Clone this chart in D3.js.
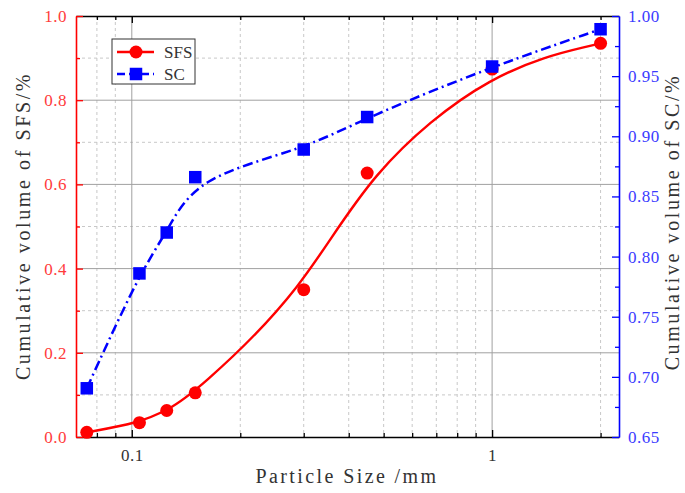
<!DOCTYPE html>
<html>
<head>
<meta charset="utf-8">
<script src="https://cdn.jsdelivr.net/npm/d3@7"></script>
<style>
html, body { margin: 0; padding: 0; background: #fff; overflow: hidden; }
svg { display: block; }
text { font-family: "Liberation Serif", serif; }
</style>
</head>
<body>
<svg width="685" height="493"></svg>
<script>
// particle sizes (mm) and cumulative volumes
const particleSize = [0.075, 0.105, 0.125, 0.15, 0.3, 0.45, 1, 2];
const sfsValues = [0.011, 0.034, 0.063, 0.105, 0.35, 0.627, 0.874, 0.935];
const scValues = [0.6905, 0.786, 0.820, 0.866, 0.889, 0.916, 0.958, 0.989];
const seriesNames = ['SFS', 'SC'];

const xMajorTicks = [0.1, 1];
const xMinorTicks = [0.08, 0.09, 0.2, 0.3, 0.4, 0.5, 0.6, 0.7, 0.8, 0.9, 2];
const sfsTicks = [0, 0.2, 0.4, 0.6, 0.8, 1.0];
const sfsMinorTicks = [0.1, 0.3, 0.5, 0.7, 0.9];
const scTicks = [0.65, 0.70, 0.75, 0.80, 0.85, 0.90, 0.95, 1.00];
const scMinorTicks = [0.675, 0.725, 0.775, 0.825, 0.875, 0.925, 0.975];

const svg = d3.select('svg');
const width = +svg.attr('width');
const height = +svg.attr('height');
const margin = { top: 16, right: 66, bottom: 56, left: 76 };
const innerWidth = width - margin.left - margin.right;
const innerHeight = height - margin.top - margin.bottom;

const red = '#ff0000';
const blue = '#0000ff';

const xScale = d3.scaleLog().domain([0.07, 2.25]).range([0, innerWidth]);
const yLeft = d3.scaleLinear().domain([0, 1]).range([innerHeight, 0]);
const yRight = d3.scaleLinear().domain([0.65, 1.0]).range([innerHeight, 0]);

const g = svg.append('g')
    .attr('transform', `translate(${margin.left},${margin.top})`);

// grid lines
const grid = g.append('g');
grid.selectAll('.vmin').data(xMinorTicks).enter().append('line')
    .attr('x1', d => xScale(d)).attr('x2', d => xScale(d))
    .attr('y1', 0).attr('y2', innerHeight)
    .attr('stroke', '#c8c8c8').attr('stroke-dasharray', '3,3');
grid.selectAll('.hmin').data(sfsMinorTicks).enter().append('line')
    .attr('x1', 0).attr('x2', innerWidth)
    .attr('y1', d => yLeft(d)).attr('y2', d => yLeft(d))
    .attr('stroke', '#c8c8c8').attr('stroke-dasharray', '3,3');
grid.selectAll('.vmaj').data(xMajorTicks).enter().append('line')
    .attr('x1', d => xScale(d)).attr('x2', d => xScale(d))
    .attr('y1', 0).attr('y2', innerHeight)
    .attr('stroke', '#a0a0a0');
grid.selectAll('.hmaj').data(sfsTicks.slice(1, -1)).enter().append('line')
    .attr('x1', 0).attr('x2', innerWidth)
    .attr('y1', d => yLeft(d)).attr('y2', d => yLeft(d))
    .attr('stroke', '#a0a0a0');

// axes
const styleAxis = (sel, color, labelColor) => {
    sel.attr('font-family', null).attr('font-size', null);
    sel.select('.domain').attr('stroke', color).attr('stroke-width', 1.6);
    sel.selectAll('.tick line').attr('stroke', color).attr('stroke-width', 1.3);
    sel.selectAll('.tick text')
        .attr('fill', labelColor)
        .style('font-size', '17px')
        .style('letter-spacing', '0.5px');
};
const minorAxis = (axis, ticks, color) => {
    const a = g.append('g').call(axis.tickValues(ticks).tickSize(-4).tickFormat(''));
    a.select('.domain').remove();
    a.selectAll('text').remove();
    a.selectAll('.tick line').attr('stroke', color).attr('stroke-width', 1.3);
    return a;
};

minorAxis(d3.axisBottom(xScale), xMinorTicks, '#000').attr('transform', `translate(0,${innerHeight})`);
minorAxis(d3.axisTop(xScale), xMinorTicks, '#000');
minorAxis(d3.axisLeft(yLeft), sfsMinorTicks, red);
minorAxis(d3.axisRight(yRight), scMinorTicks, blue).attr('transform', `translate(${innerWidth},0)`);

const xAxisG = g.append('g')
    .attr('transform', `translate(0,${innerHeight})`)
    .call(d3.axisBottom(xScale).tickValues(xMajorTicks).tickSize(-7).tickSizeOuter(0)
        .tickPadding(12).tickFormat(d3.format('')));
styleAxis(xAxisG, '#000', '#333');

const topAxisG = g.append('g')
    .call(d3.axisTop(xScale).tickValues(xMajorTicks).tickSize(-7).tickSizeOuter(0).tickFormat(''));
styleAxis(topAxisG, '#000', '#333');
topAxisG.selectAll('text').remove();

const leftAxisG = g.append('g')
    .call(d3.axisLeft(yLeft).tickValues(sfsTicks).tickSize(-7).tickSizeOuter(0)
        .tickPadding(9).tickFormat(d3.format('.1f')));
styleAxis(leftAxisG, red, '#ff3b3b');

const rightAxisG = g.append('g')
    .attr('transform', `translate(${innerWidth},0)`)
    .call(d3.axisRight(yRight).tickValues(scTicks).tickSize(-7).tickSizeOuter(0)
        .tickPadding(9).tickFormat(d3.format('.2f')));
styleAxis(rightAxisG, blue, '#3b3bff');

// axis titles
svg.append('text')
    .attr('transform', 'translate(30,226) rotate(-90)')
    .attr('text-anchor', 'middle')
    .attr('fill', '#333')
    .style('font-size', '20px')
    .style('letter-spacing', '2.6px')
    .text('Cumulative volume of SFS/%');

svg.append('text')
    .attr('transform', 'translate(679,222) rotate(-90)')
    .attr('text-anchor', 'middle')
    .attr('fill', '#333')
    .style('font-size', '20px')
    .style('letter-spacing', '2.6px')
    .text('Cumulative volume of SC/%');

svg.append('text')
    .attr('x', 347).attr('y', 483)
    .attr('text-anchor', 'middle')
    .attr('fill', '#333')
    .style('font-size', '20px')
    .style('letter-spacing', '2.4px')
    .text('Particle Size /mm');

// series
const sfsData = particleSize.map((p, i) => ({ x: p, y: sfsValues[i] }));
const scData = particleSize.map((p, i) => ({ x: p, y: scValues[i] }));

const sfsLine = d3.line().curve(d3.curveBasis)
    .x(d => xScale(d.x)).y(d => yLeft(d.y));
const scLine = d3.line().curve(d3.curveBasis)
    .x(d => xScale(d.x)).y(d => yRight(d.y));

const scDash = '10,4,2,4';

g.append('path').datum(sfsData)
    .attr('d', sfsLine)
    .attr('fill', 'none').attr('stroke', red).attr('stroke-width', 2.4);
g.selectAll('.sfs').data(sfsData).enter().append('circle')
    .attr('cx', d => xScale(d.x)).attr('cy', d => yLeft(d.y))
    .attr('r', 6.5).attr('fill', red);

g.append('path').datum(scData)
    .attr('d', scLine)
    .attr('fill', 'none').attr('stroke', blue).attr('stroke-width', 2.5)
    .attr('stroke-dasharray', scDash);
g.selectAll('.sc').data(scData).enter().append('rect')
    .attr('x', d => xScale(d.x) - 6.25).attr('y', d => yRight(d.y) - 6.25)
    .attr('width', 12.5).attr('height', 12.5).attr('fill', blue);

// legend
const legend = svg.append('g').attr('transform', 'translate(112,39)');
legend.append('rect')
    .attr('width', 83).attr('height', 45)
    .attr('fill', '#fff').attr('stroke', '#333').attr('stroke-width', 1);
legend.append('line')
    .attr('x1', 5).attr('x2', 42).attr('y1', 13).attr('y2', 13)
    .attr('stroke', red).attr('stroke-width', 2.4);
legend.append('circle').attr('cx', 24).attr('cy', 13).attr('r', 6.5).attr('fill', red);
legend.append('line')
    .attr('x1', 5).attr('x2', 42).attr('y1', 35).attr('y2', 35)
    .attr('stroke', blue).attr('stroke-width', 2.5).attr('stroke-dasharray', '8,4');
legend.append('rect').attr('x', 17.75).attr('y', 28.75).attr('width', 12.5).attr('height', 12.5).attr('fill', blue);
legend.selectAll('.lbl').data(seriesNames).enter().append('text')
    .attr('x', 52).attr('y', (d, i) => 19 + i * 22)
    .attr('fill', '#333')
    .style('font-size', '17px')
    .text(d => d);
</script>
</body>
</html>
